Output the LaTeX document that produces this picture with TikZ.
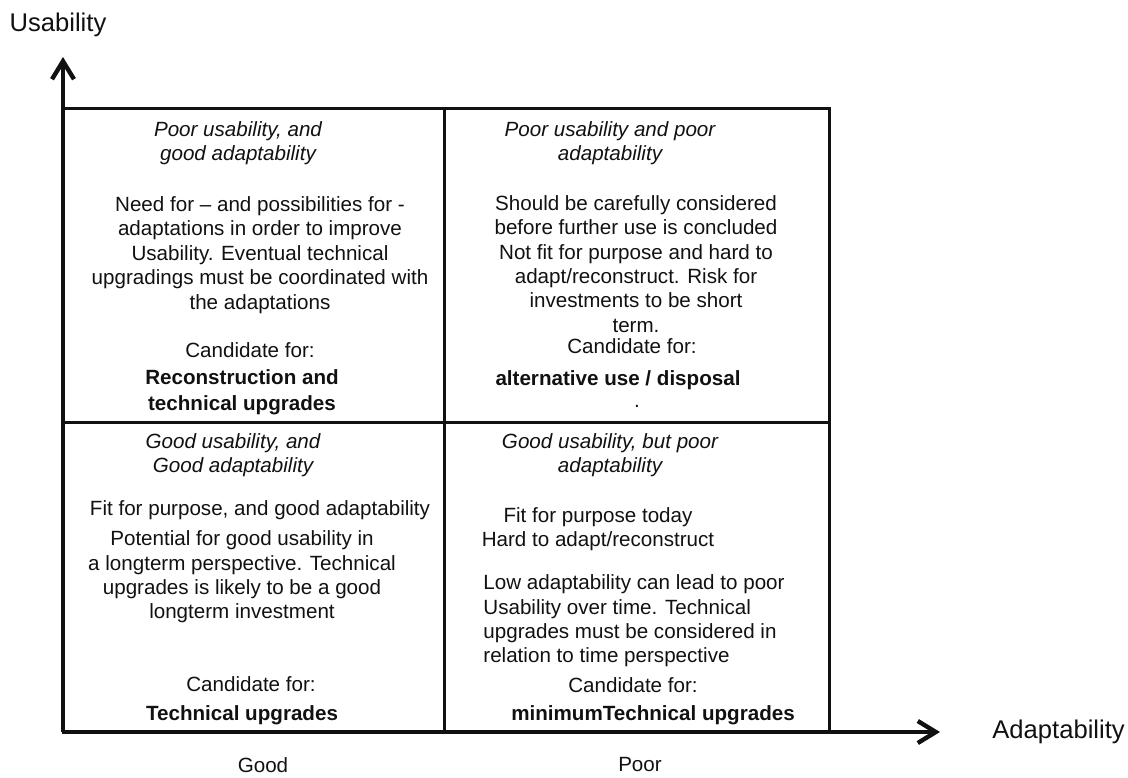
\documentclass[tikz,border=0pt]{standalone}
\usepackage{fontspec}
\setmainfont{Liberation Sans}
\usepackage{xcolor}
\usepackage{tikz}
\usetikzlibrary{positioning,arrows.meta}
\definecolor{inkdark}{HTML}{111111}
\tikzset{
  every node/.style={font=\fontsize{10.3}{12.2}\selectfont, text=inkdark, inner sep=0pt},
  quad/.style={draw=inkdark, line width=1.5pt},
  axis/.style={-{Straight Barb[length=9pt,width=11pt]}, line width=2.2pt, draw=inkdark},
  ttl/.style={align=center, font=\fontsize{10.3}{11.8}\selectfont\itshape},
  txt/.style={align=center},
  cand/.style={align=center, font=\fontsize{10.3}{12.8}\selectfont\bfseries},
  axlbl/.style={font=\fontsize{12.8}{14}\selectfont},
}

\begin{document}
\begin{tikzpicture}[x=0.5pt, y=-0.5pt]
  \useasboundingbox (0,0) rectangle (1128,777);

  % frame of the four fields
  \coordinate (O) at (63,732);
  \coordinate (tr) at (829,108);
  \coordinate (midtop) at (444,108);
  \coordinate (midbot) at (444,732);
  \coordinate (midl) at (63,422);
  \coordinate (midr) at (829,422);
  \coordinate (ytip) at (63,57);
  \coordinate (xtip) at (940,732);

  \draw[quad] (O) rectangle (tr);
  \draw[quad] (midtop) -- (midbot);
  \draw[quad] (midl) -- (midr);
  \draw[axis] (O) -- (ytip);
  \draw[axis] (O) -- (xtip);

  \node[axlbl, above=10pt of ytip, xshift=-2.5pt] (ylbl) {Usability};
  \node[axlbl, right=26pt of xtip] (xlbl) {Adaptability};
  \node at (263,765) (good) {Good};
  \node at (640,764) (poor) {Poor};

  % upper left
  \node[ttl] at (238,143) (q1t) {Poor usability, and\\ good adaptability};
  \node[txt] at (260,255) (q1b) {Need for -- and possibilities for -\\ adaptations in order to improve\\ Usability. Eventual technical\\ upgradings must be coordinated with\\ the adaptations};
  \node[txt] at (250,350) (q1c) {Candidate for:};
  \node[cand] at (242,392) (q1u) {Reconstruction and\\ technical upgrades};

  % upper right
  \node[ttl] at (610,143) (q2t) {Poor usability and poor\\ adaptability};
  \node[txt] at (636,264) (q2b) {Should be carefully considered\\ before further use is concluded\\ Not fit for purpose and hard to\\ adapt/reconstruct. Risk for\\ investments to be short\\ term.};
  \node[txt] at (632,346) (q2c) {Candidate for:};
  \node[cand] at (618,380) (q2u) {alternative use / disposal};
  \node[txt] at (637,406) (q2d) {.};

  % lower left
  \node[ttl] at (233,455) (q3t) {Good usability, and\\ Good adaptability};
  \node[txt] at (260,510) (q3a) {Fit for purpose, and good adaptability};
  \node[txt] at (242,577) (q3b) {Potential for good usability in\\ a longterm perspective. Technical\\ upgrades is likely to be a good\\ longterm investment};
  \node[txt] at (251,684) (q3c) {Candidate for:};
  \node[cand] at (242,715) (q3u) {Technical upgrades};

  % lower right
  \node[ttl] at (610,455) (q4t) {Good usability, but poor\\ adaptability};
  \node[txt] at (598,529) (q4a) {Fit for purpose today\\ Hard to adapt/reconstruct};
  \node[align=left, anchor=west] at (483,621) (q4b) {Low adaptability can lead to poor\\ Usability over time. Technical\\ upgrades must be considered in\\ relation to time perspective};
  \node[txt] at (633,685) (q4c) {Candidate for:};
  \node[cand] at (653,715) (q4u) {minimumTechnical upgrades};
\end{tikzpicture}
\end{document}
